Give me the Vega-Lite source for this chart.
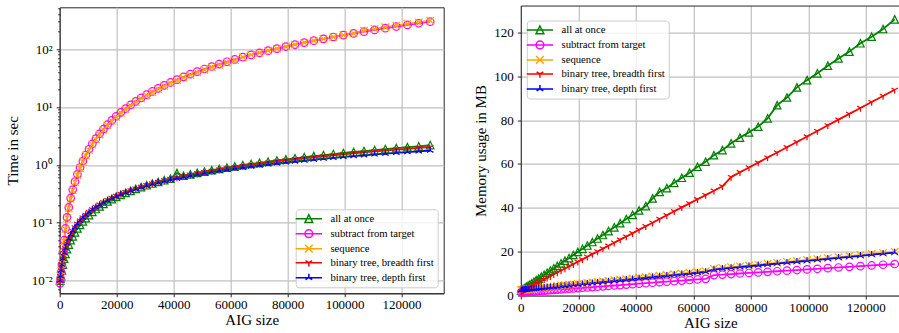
{
  "$schema": "https://vega.github.io/schema/vega-lite/v6.json",
  "padding": {"left": 4.7, "top": 1.3, "right": 0, "bottom": 0},
  "spacing": 29.1,
  "center": true,
  "config": {
    "font": "Liberation Serif",
    "view": {"stroke": "#262626", "strokeWidth": 1},
    "axis": {
      "labelFont": "Liberation Serif", "titleFont": "Liberation Serif",
      "labelFontSize": 13, "titleFontSize": 15, "titleFontWeight": "normal",
      "labelColor": "#000000", "titleColor": "#000000",
      "domainColor": "#262626", "tickColor": "#262626", "tickSize": 3.5, "tickWidth": 1,
      "gridColor": "#c0c0c0", "gridWidth": 1.2, "labelPadding": 2, "titlePadding": 1, "labelFlush": false
    },
    "axisY": {"labelPadding": 4, "titlePadding": 5},
    "legend": {
      "labelFont": "Liberation Serif", "labelFontSize": 10.7, "labelColor": "#000000",
      "fillColor": "rgba(255,255,255,0.8)", "strokeColor": "#cccccc", "cornerRadius": 3,
      "padding": 4, "symbolSize": 60, "symbolOffset": 3.8, "labelOffset": 16.2, "rowPadding": 0,
      "symbolStrokeWidth": 1.5, "labelLimit": 300
    }
  },
  "data": {"values": [
{"s":"all at once","x":127,"t":0.010,"m":2.3},
{"s":"all at once","x":286,"t":0.011,"m":2.5},
{"s":"all at once","x":508,"t":0.012,"m":2.65},
{"s":"all at once","x":794,"t":0.015,"m":2.9},
{"s":"all at once","x":1143,"t":0.019,"m":3.2},
{"s":"all at once","x":1556,"t":0.024,"m":3.6},
{"s":"all at once","x":2032,"t":0.029,"m":4.0},
{"s":"all at once","x":2572,"t":0.035,"m":4.5},
{"s":"all at once","x":3175,"t":0.042,"m":5.0},
{"s":"all at once","x":3842,"t":0.050,"m":5.6},
{"s":"all at once","x":4572,"t":0.058,"m":6.3},
{"s":"all at once","x":5366,"t":0.068,"m":7.0},
{"s":"all at once","x":6223,"t":0.080,"m":7.7},
{"s":"all at once","x":7144,"t":0.092,"m":8.6},
{"s":"all at once","x":8128,"t":0.106,"m":9.4},
{"s":"all at once","x":9176,"t":0.120,"m":10.4},
{"s":"all at once","x":10287,"t":0.136,"m":11.4},
{"s":"all at once","x":11462,"t":0.154,"m":12.4},
{"s":"all at once","x":12700,"t":0.173,"m":13.5},
{"s":"all at once","x":14002,"t":0.192,"m":14.7},
{"s":"all at once","x":15367,"t":0.212,"m":15.9},
{"s":"all at once","x":16796,"t":0.234,"m":17.1},
{"s":"all at once","x":18288,"t":0.256,"m":18.5},
{"s":"all at once","x":19844,"t":0.280,"m":19.9},
{"s":"all at once","x":21463,"t":0.304,"m":21.3},
{"s":"all at once","x":23146,"t":0.329,"m":22.8},
{"s":"all at once","x":24892,"t":0.356,"m":24.4},
{"s":"all at once","x":26702,"t":0.384,"m":26.0},
{"s":"all at once","x":28575,"t":0.414,"m":27.6},
{"s":"all at once","x":30512,"t":0.444,"m":29.4},
{"s":"all at once","x":32512,"t":0.476,"m":31.1},
{"s":"all at once","x":34576,"t":0.508,"m":33.0},
{"s":"all at once","x":36703,"t":0.542,"m":34.9},
{"s":"all at once","x":38894,"t":0.577,"m":36.8},
{"s":"all at once","x":41148,"t":0.72,"m":38.8},
{"s":"all at once","x":43466,"t":0.648,"m":40.8},
{"s":"all at once","x":45847,"t":0.686,"m":44.3},
{"s":"all at once","x":48292,"t":0.725,"m":47.3},
{"s":"all at once","x":50800,"t":0.765,"m":49.0},
{"s":"all at once","x":53372,"t":0.806,"m":51.4},
{"s":"all at once","x":56007,"t":0.850,"m":53.7},
{"s":"all at once","x":58706,"t":0.894,"m":56.0},
{"s":"all at once","x":61468,"t":0.940,"m":58.7},
{"s":"all at once","x":64294,"t":0.987,"m":61.0},
{"s":"all at once","x":67183,"t":1.036,"m":64.0},
{"s":"all at once","x":70136,"t":1.085,"m":66.3},
{"s":"all at once","x":73152,"t":1.136,"m":69.4},
{"s":"all at once","x":76232,"t":1.189,"m":72.0},
{"s":"all at once","x":79375,"t":1.243,"m":74.4},
{"s":"all at once","x":82582,"t":1.299,"m":77.0},
{"s":"all at once","x":85852,"t":1.356,"m":80.8},
{"s":"all at once","x":89186,"t":1.415,"m":86.8},
{"s":"all at once","x":92583,"t":1.475,"m":90.3},
{"s":"all at once","x":96044,"t":1.537,"m":94.9},
{"s":"all at once","x":99568,"t":1.601,"m":98.2},
{"s":"all at once","x":103156,"t":1.666,"m":101.3},
{"s":"all at once","x":106807,"t":1.733,"m":104.8},
{"s":"all at once","x":110522,"t":1.802,"m":108.1},
{"s":"all at once","x":114300,"t":1.872,"m":111.2},
{"s":"all at once","x":118142,"t":1.944,"m":115.0},
{"s":"all at once","x":122047,"t":2.017,"m":118.0},
{"s":"all at once","x":126016,"t":2.092,"m":121.5},
{"s":"all at once","x":130048,"t":2.195,"m":125.9},
{"s":"subtract from target","x":127,"t":0.009,"m":1.51},
{"s":"subtract from target","x":286,"t":0.011,"m":1.53},
{"s":"subtract from target","x":508,"t":0.014,"m":1.55},
{"s":"subtract from target","x":794,"t":0.019,"m":1.58},
{"s":"subtract from target","x":1143,"t":0.031,"m":1.61},
{"s":"subtract from target","x":1556,"t":0.050,"m":1.65},
{"s":"subtract from target","x":2032,"t":0.080,"m":1.69},
{"s":"subtract from target","x":2572,"t":0.124,"m":1.74},
{"s":"subtract from target","x":3175,"t":0.184,"m":1.80},
{"s":"subtract from target","x":3842,"t":0.266,"m":1.86},
{"s":"subtract from target","x":4572,"t":0.374,"m":1.93},
{"s":"subtract from target","x":5366,"t":0.512,"m":2.01},
{"s":"subtract from target","x":6223,"t":0.686,"m":2.09},
{"s":"subtract from target","x":7144,"t":0.901,"m":2.18},
{"s":"subtract from target","x":8128,"t":1.164,"m":2.27},
{"s":"subtract from target","x":9176,"t":1.48,"m":2.37},
{"s":"subtract from target","x":10287,"t":1.86,"m":2.48},
{"s":"subtract from target","x":11462,"t":2.31,"m":2.59},
{"s":"subtract from target","x":12700,"t":2.83,"m":2.71},
{"s":"subtract from target","x":14002,"t":3.44,"m":2.83},
{"s":"subtract from target","x":15367,"t":4.14,"m":2.96},
{"s":"subtract from target","x":16796,"t":4.94,"m":3.10},
{"s":"subtract from target","x":18288,"t":5.86,"m":3.24},
{"s":"subtract from target","x":19844,"t":6.90,"m":3.39},
{"s":"subtract from target","x":21463,"t":8.07,"m":3.54},
{"s":"subtract from target","x":23146,"t":9.38,"m":3.70},
{"s":"subtract from target","x":24892,"t":10.84,"m":3.86},
{"s":"subtract from target","x":26702,"t":12.48,"m":4.04},
{"s":"subtract from target","x":28575,"t":14.29,"m":4.21},
{"s":"subtract from target","x":30512,"t":16.29,"m":4.40},
{"s":"subtract from target","x":32512,"t":18.50,"m":4.59},
{"s":"subtract from target","x":34576,"t":20.92,"m":4.78},
{"s":"subtract from target","x":36703,"t":23.57,"m":4.99},
{"s":"subtract from target","x":38894,"t":26.47,"m":5.19},
{"s":"subtract from target","x":41148,"t":29.63,"m":5.41},
{"s":"subtract from target","x":43466,"t":33.06,"m":5.63},
{"s":"subtract from target","x":45847,"t":36.78,"m":5.86},
{"s":"subtract from target","x":48292,"t":40.81,"m":6.09},
{"s":"subtract from target","x":50800,"t":45.16,"m":6.33},
{"s":"subtract from target","x":53372,"t":49.85,"m":6.57},
{"s":"subtract from target","x":56007,"t":54.89,"m":6.82},
{"s":"subtract from target","x":58706,"t":60.31,"m":7.08},
{"s":"subtract from target","x":61468,"t":66.12,"m":7.34},
{"s":"subtract from target","x":64294,"t":72.34,"m":7.61},
{"s":"subtract from target","x":67183,"t":78.99,"m":9.31},
{"s":"subtract from target","x":70136,"t":86.08,"m":9.55},
{"s":"subtract from target","x":73152,"t":93.65,"m":9.79},
{"s":"subtract from target","x":76232,"t":101.7,"m":10.04},
{"s":"subtract from target","x":79375,"t":110.3,"m":10.29},
{"s":"subtract from target","x":82582,"t":119.3,"m":10.55},
{"s":"subtract from target","x":85852,"t":129.0,"m":10.81},
{"s":"subtract from target","x":89186,"t":139.2,"m":11.08},
{"s":"subtract from target","x":92583,"t":150.0,"m":11.35},
{"s":"subtract from target","x":96044,"t":161.4,"m":11.63},
{"s":"subtract from target","x":99568,"t":173.5,"m":11.92},
{"s":"subtract from target","x":103156,"t":186.2,"m":12.20},
{"s":"subtract from target","x":106807,"t":199.6,"m":12.50},
{"s":"subtract from target","x":110522,"t":213.8,"m":12.80},
{"s":"subtract from target","x":114300,"t":228.6,"m":13.10},
{"s":"subtract from target","x":118142,"t":244.3,"m":13.41},
{"s":"subtract from target","x":122047,"t":260.7,"m":13.72},
{"s":"subtract from target","x":126016,"t":277.9,"m":14.04},
{"s":"subtract from target","x":130048,"t":296.0,"m":14.37},
{"s":"sequence","x":127,"t":0.010,"m":2.57},
{"s":"sequence","x":286,"t":0.012,"m":2.59},
{"s":"sequence","x":508,"t":0.015,"m":2.62},
{"s":"sequence","x":794,"t":0.020,"m":2.65},
{"s":"sequence","x":1143,"t":0.030,"m":2.70},
{"s":"sequence","x":1556,"t":0.048,"m":2.75},
{"s":"sequence","x":2032,"t":0.077,"m":2.81},
{"s":"sequence","x":2572,"t":0.120,"m":2.88},
{"s":"sequence","x":3175,"t":0.178,"m":2.96},
{"s":"sequence","x":3842,"t":0.258,"m":3.05},
{"s":"sequence","x":4572,"t":0.362,"m":3.14},
{"s":"sequence","x":5366,"t":0.497,"m":3.25},
{"s":"sequence","x":6223,"t":0.665,"m":3.36},
{"s":"sequence","x":7144,"t":0.874,"m":3.48},
{"s":"sequence","x":8128,"t":1.13,"m":3.61},
{"s":"sequence","x":9176,"t":1.44,"m":3.74},
{"s":"sequence","x":10287,"t":1.80,"m":3.89},
{"s":"sequence","x":11462,"t":2.24,"m":4.04},
{"s":"sequence","x":12700,"t":2.75,"m":4.40},
{"s":"sequence","x":14002,"t":3.34,"m":4.57},
{"s":"sequence","x":15367,"t":4.02,"m":4.75},
{"s":"sequence","x":16796,"t":4.79,"m":4.93},
{"s":"sequence","x":18288,"t":5.68,"m":5.13},
{"s":"sequence","x":19844,"t":6.69,"m":5.33},
{"s":"sequence","x":21463,"t":7.83,"m":5.54},
{"s":"sequence","x":23146,"t":9.10,"m":5.76},
{"s":"sequence","x":24892,"t":10.5,"m":5.99},
{"s":"sequence","x":26702,"t":12.1,"m":6.22},
{"s":"sequence","x":28575,"t":13.9,"m":6.46},
{"s":"sequence","x":30512,"t":15.8,"m":6.72},
{"s":"sequence","x":32512,"t":17.9,"m":6.98},
{"s":"sequence","x":34576,"t":20.3,"m":7.24},
{"s":"sequence","x":36703,"t":22.9,"m":7.52},
{"s":"sequence","x":38894,"t":25.7,"m":7.81},
{"s":"sequence","x":41148,"t":28.7,"m":8.10},
{"s":"sequence","x":43466,"t":32.1,"m":8.40},
{"s":"sequence","x":45847,"t":35.7,"m":8.71},
{"s":"sequence","x":48292,"t":39.6,"m":9.03},
{"s":"sequence","x":50800,"t":43.8,"m":9.35},
{"s":"sequence","x":53372,"t":48.4,"m":9.69},
{"s":"sequence","x":56007,"t":53.2,"m":10.03},
{"s":"sequence","x":58706,"t":58.5,"m":10.38},
{"s":"sequence","x":61468,"t":64.1,"m":10.74},
{"s":"sequence","x":64294,"t":72.3,"m":11.11},
{"s":"sequence","x":67183,"t":79.0,"m":12.21},
{"s":"sequence","x":70136,"t":86.1,"m":12.58},
{"s":"sequence","x":73152,"t":93.7,"m":12.95},
{"s":"sequence","x":76232,"t":101.7,"m":13.33},
{"s":"sequence","x":79375,"t":110.3,"m":13.71},
{"s":"sequence","x":82582,"t":119.3,"m":14.11},
{"s":"sequence","x":85852,"t":129.0,"m":14.51},
{"s":"sequence","x":89186,"t":139.2,"m":14.92},
{"s":"sequence","x":92583,"t":150.0,"m":15.34},
{"s":"sequence","x":96044,"t":161.4,"m":15.76},
{"s":"sequence","x":99568,"t":173.5,"m":16.20},
{"s":"sequence","x":103156,"t":186.2,"m":16.64},
{"s":"sequence","x":106807,"t":207.6,"m":17.09},
{"s":"sequence","x":110522,"t":222.4,"m":17.54},
{"s":"sequence","x":114300,"t":237.7,"m":18.01},
{"s":"sequence","x":118142,"t":254.1,"m":18.48},
{"s":"sequence","x":122047,"t":271.1,"m":18.96},
{"s":"sequence","x":126016,"t":289.0,"m":19.45},
{"s":"sequence","x":130048,"t":307.8,"m":19.95},
{"s":"binary tree, breadth first","x":127,"t":0.010,"m":1.9},
{"s":"binary tree, breadth first","x":286,"t":0.012,"m":2.0},
{"s":"binary tree, breadth first","x":508,"t":0.015,"m":2.1},
{"s":"binary tree, breadth first","x":794,"t":0.019,"m":2.3},
{"s":"binary tree, breadth first","x":1143,"t":0.024,"m":2.6},
{"s":"binary tree, breadth first","x":1556,"t":0.030,"m":2.9},
{"s":"binary tree, breadth first","x":2032,"t":0.036,"m":3.2},
{"s":"binary tree, breadth first","x":2572,"t":0.044,"m":3.6},
{"s":"binary tree, breadth first","x":3175,"t":0.053,"m":4.0},
{"s":"binary tree, breadth first","x":3842,"t":0.062,"m":4.4},
{"s":"binary tree, breadth first","x":4572,"t":0.072,"m":4.9},
{"s":"binary tree, breadth first","x":5366,"t":0.083,"m":5.5},
{"s":"binary tree, breadth first","x":6223,"t":0.096,"m":6.1},
{"s":"binary tree, breadth first","x":7144,"t":0.109,"m":6.7},
{"s":"binary tree, breadth first","x":8128,"t":0.123,"m":7.4},
{"s":"binary tree, breadth first","x":9176,"t":0.137,"m":8.1},
{"s":"binary tree, breadth first","x":10287,"t":0.153,"m":8.8},
{"s":"binary tree, breadth first","x":11462,"t":0.170,"m":9.7},
{"s":"binary tree, breadth first","x":12700,"t":0.188,"m":10.5},
{"s":"binary tree, breadth first","x":14002,"t":0.206,"m":11.4},
{"s":"binary tree, breadth first","x":15367,"t":0.226,"m":12.3},
{"s":"binary tree, breadth first","x":16796,"t":0.247,"m":13.3},
{"s":"binary tree, breadth first","x":18288,"t":0.268,"m":14.3},
{"s":"binary tree, breadth first","x":19844,"t":0.291,"m":15.4},
{"s":"binary tree, breadth first","x":21463,"t":0.314,"m":16.5},
{"s":"binary tree, breadth first","x":23146,"t":0.338,"m":17.7},
{"s":"binary tree, breadth first","x":24892,"t":0.364,"m":18.9},
{"s":"binary tree, breadth first","x":26702,"t":0.390,"m":20.1},
{"s":"binary tree, breadth first","x":28575,"t":0.418,"m":21.4},
{"s":"binary tree, breadth first","x":30512,"t":0.446,"m":22.7},
{"s":"binary tree, breadth first","x":32512,"t":0.476,"m":24.1},
{"s":"binary tree, breadth first","x":34576,"t":0.506,"m":25.5},
{"s":"binary tree, breadth first","x":36703,"t":0.538,"m":26.9},
{"s":"binary tree, breadth first","x":38894,"t":0.571,"m":28.4},
{"s":"binary tree, breadth first","x":41148,"t":0.604,"m":30.0},
{"s":"binary tree, breadth first","x":43466,"t":0.639,"m":31.6},
{"s":"binary tree, breadth first","x":45847,"t":0.675,"m":33.2},
{"s":"binary tree, breadth first","x":48292,"t":0.712,"m":34.9},
{"s":"binary tree, breadth first","x":50800,"t":0.750,"m":36.6},
{"s":"binary tree, breadth first","x":53372,"t":0.789,"m":38.4},
{"s":"binary tree, breadth first","x":56007,"t":0.830,"m":40.2},
{"s":"binary tree, breadth first","x":58706,"t":0.871,"m":42.0},
{"s":"binary tree, breadth first","x":61468,"t":0.914,"m":43.9},
{"s":"binary tree, breadth first","x":64294,"t":0.958,"m":45.8},
{"s":"binary tree, breadth first","x":67183,"t":1.003,"m":47.8},
{"s":"binary tree, breadth first","x":70136,"t":1.049,"m":49.8},
{"s":"binary tree, breadth first","x":73152,"t":1.096,"m":54.0},
{"s":"binary tree, breadth first","x":76232,"t":1.145,"m":56.2},
{"s":"binary tree, breadth first","x":79375,"t":1.195,"m":58.4},
{"s":"binary tree, breadth first","x":82582,"t":1.246,"m":60.6},
{"s":"binary tree, breadth first","x":85852,"t":1.298,"m":62.9},
{"s":"binary tree, breadth first","x":89186,"t":1.352,"m":65.2},
{"s":"binary tree, breadth first","x":92583,"t":1.407,"m":67.6},
{"s":"binary tree, breadth first","x":96044,"t":1.463,"m":70.0},
{"s":"binary tree, breadth first","x":99568,"t":1.521,"m":72.5},
{"s":"binary tree, breadth first","x":103156,"t":1.580,"m":75.0},
{"s":"binary tree, breadth first","x":106807,"t":1.640,"m":77.6},
{"s":"binary tree, breadth first","x":110522,"t":1.702,"m":80.2},
{"s":"binary tree, breadth first","x":114300,"t":1.765,"m":82.8},
{"s":"binary tree, breadth first","x":118142,"t":1.830,"m":85.5},
{"s":"binary tree, breadth first","x":122047,"t":1.895,"m":88.2},
{"s":"binary tree, breadth first","x":126016,"t":1.963,"m":91.0},
{"s":"binary tree, breadth first","x":130048,"t":2.032,"m":93.8},
{"s":"binary tree, depth first","x":127,"t":0.010,"m":2.42},
{"s":"binary tree, depth first","x":286,"t":0.012,"m":2.44},
{"s":"binary tree, depth first","x":508,"t":0.015,"m":2.47},
{"s":"binary tree, depth first","x":794,"t":0.019,"m":2.50},
{"s":"binary tree, depth first","x":1143,"t":0.024,"m":2.55},
{"s":"binary tree, depth first","x":1556,"t":0.030,"m":2.60},
{"s":"binary tree, depth first","x":2032,"t":0.036,"m":2.66},
{"s":"binary tree, depth first","x":2572,"t":0.044,"m":2.73},
{"s":"binary tree, depth first","x":3175,"t":0.053,"m":2.81},
{"s":"binary tree, depth first","x":3842,"t":0.062,"m":2.90},
{"s":"binary tree, depth first","x":4572,"t":0.072,"m":2.99},
{"s":"binary tree, depth first","x":5366,"t":0.083,"m":3.10},
{"s":"binary tree, depth first","x":6223,"t":0.095,"m":3.21},
{"s":"binary tree, depth first","x":7144,"t":0.108,"m":3.33},
{"s":"binary tree, depth first","x":8128,"t":0.122,"m":3.46},
{"s":"binary tree, depth first","x":9176,"t":0.136,"m":3.59},
{"s":"binary tree, depth first","x":10287,"t":0.151,"m":3.74},
{"s":"binary tree, depth first","x":11462,"t":0.168,"m":3.89},
{"s":"binary tree, depth first","x":12700,"t":0.186,"m":4.05},
{"s":"binary tree, depth first","x":14002,"t":0.203,"m":4.22},
{"s":"binary tree, depth first","x":15367,"t":0.223,"m":4.40},
{"s":"binary tree, depth first","x":16796,"t":0.243,"m":4.58},
{"s":"binary tree, depth first","x":18288,"t":0.263,"m":4.78},
{"s":"binary tree, depth first","x":19844,"t":0.285,"m":4.98},
{"s":"binary tree, depth first","x":21463,"t":0.307,"m":5.19},
{"s":"binary tree, depth first","x":23146,"t":0.330,"m":5.41},
{"s":"binary tree, depth first","x":24892,"t":0.355,"m":5.64},
{"s":"binary tree, depth first","x":26702,"t":0.380,"m":5.87},
{"s":"binary tree, depth first","x":28575,"t":0.406,"m":6.11},
{"s":"binary tree, depth first","x":30512,"t":0.432,"m":6.37},
{"s":"binary tree, depth first","x":32512,"t":0.461,"m":6.63},
{"s":"binary tree, depth first","x":34576,"t":0.489,"m":6.89},
{"s":"binary tree, depth first","x":36703,"t":0.518,"m":7.17},
{"s":"binary tree, depth first","x":38894,"t":0.549,"m":7.46},
{"s":"binary tree, depth first","x":41148,"t":0.579,"m":7.75},
{"s":"binary tree, depth first","x":43466,"t":0.611,"m":8.05},
{"s":"binary tree, depth first","x":45847,"t":0.644,"m":8.36},
{"s":"binary tree, depth first","x":48292,"t":0.678,"m":8.68},
{"s":"binary tree, depth first","x":50800,"t":0.712,"m":9.00},
{"s":"binary tree, depth first","x":53372,"t":0.747,"m":9.34},
{"s":"binary tree, depth first","x":56007,"t":0.784,"m":9.68},
{"s":"binary tree, depth first","x":58706,"t":0.820,"m":10.03},
{"s":"binary tree, depth first","x":61468,"t":0.858,"m":10.39},
{"s":"binary tree, depth first","x":64294,"t":0.896,"m":10.76},
{"s":"binary tree, depth first","x":67183,"t":0.936,"m":11.86},
{"s":"binary tree, depth first","x":70136,"t":0.975,"m":12.23},
{"s":"binary tree, depth first","x":73152,"t":1.016,"m":12.60},
{"s":"binary tree, depth first","x":76232,"t":1.058,"m":12.98},
{"s":"binary tree, depth first","x":79375,"t":1.100,"m":13.36},
{"s":"binary tree, depth first","x":82582,"t":1.143,"m":13.76},
{"s":"binary tree, depth first","x":85852,"t":1.187,"m":14.16},
{"s":"binary tree, depth first","x":89186,"t":1.231,"m":14.57},
{"s":"binary tree, depth first","x":92583,"t":1.277,"m":14.99},
{"s":"binary tree, depth first","x":96044,"t":1.323,"m":15.41},
{"s":"binary tree, depth first","x":99568,"t":1.370,"m":15.85},
{"s":"binary tree, depth first","x":103156,"t":1.417,"m":16.29},
{"s":"binary tree, depth first","x":106807,"t":1.465,"m":16.74},
{"s":"binary tree, depth first","x":110522,"t":1.514,"m":17.19},
{"s":"binary tree, depth first","x":114300,"t":1.563,"m":17.66},
{"s":"binary tree, depth first","x":118142,"t":1.614,"m":18.13},
{"s":"binary tree, depth first","x":122047,"t":1.664,"m":18.61},
{"s":"binary tree, depth first","x":126016,"t":1.716,"m":19.10},
{"s":"binary tree, depth first","x":130048,"t":1.768,"m":19.60}
  ]},
  "hconcat": [
    {
      "width": 384,
      "height": 286,
      "encoding": {
        "x": {"field": "x", "type": "quantitative", "scale": {"domain": [0, 134780], "nice": false, "zero": false},
              "axis": {"title": "AIG size", "values": [0, 20000, 40000, 60000, 80000, 100000, 120000], "format": "d", "grid": true, "labelFont": "Liberation Serif", "titleFont": "Liberation Serif"}},
        "y": {"field": "t", "type": "quantitative", "scale": {"type": "log", "domain": [0.00606, 525], "nice": false},
              "axis": {"title": "Time in sec", "grid": true, "labelOverlap": false, "titlePadding": 11, "labelFont": "Liberation Serif", "titleFont": "Liberation Serif",
                "values": [0.007,0.008,0.009,0.01,0.02,0.03,0.04,0.05,0.06,0.07,0.08,0.09,0.1,0.2,0.3,0.4,0.5,0.6,0.7,0.8,0.9,1,2,3,4,5,6,7,8,9,10,20,30,40,50,60,70,80,90,100,200,300,400,500],
                "labelExpr": "datum.value==100?'10²':datum.value==10?'10¹':datum.value==1?'10⁰':datum.value==0.1?'10⁻¹':datum.value==0.01?'10⁻²':''",
                "gridOpacity": {"condition": {"test": "datum.value==100||datum.value==10||datum.value==1||datum.value==0.1||datum.value==0.01", "value": 1}, "value": 0},
                "tickSize": {"condition": {"test": "datum.value==100||datum.value==10||datum.value==1||datum.value==0.1||datum.value==0.01", "value": 3.5}, "value": 2}
              }},
        "color": {"field": "s", "type": "nominal",
          "scale": {"domain": ["all at once", "subtract from target", "sequence", "binary tree, breadth first", "binary tree, depth first"],
                    "range": ["#008000", "#ff00ff", "#ffa500", "#ff0000", "#0000ff"]},
          "legend": {"title": null, "orient": "bottom-right", "offset": 6, "labelFont": "Liberation Serif",
            "encode": {"symbols": {"update": {
              "fill": {"value": "transparent"},
              "strokeWidth": {"value": 1.5},
              "opacity": {"value": 1},
              "shape": {"signal": "datum.value==='all at once'?'M-3.4,0L3.4,0M0,-1L1,1L-1,1Z':datum.value==='subtract from target'?'M-3.4,0L3.4,0M1,0A1,1,0,1,1,-1,0A1,1,0,1,1,1,0':datum.value==='sequence'?'M-3.4,0L3.4,0M-1,-1L1,1M-1,1L1,-1':datum.value==='binary tree, breadth first'?'M-3.4,0L3.4,0M0,0L0,1M0,0L0.866,-0.5M0,0L-0.866,-0.5':'M-3.4,0L3.4,0M0,0L0,-1M0,0L0.866,0.5M0,0L-0.866,0.5'"}
            }}}
          }}
      },
      "layer": [
        {"mark": {"type": "line", "strokeWidth": 1.8}},
        {"mark": {"type": "point", "filled": false, "size": 56, "strokeWidth": 1.2, "opacity": 1},
         "encoding": {"shape": {"field": "s", "type": "nominal", "legend": null,
           "scale": {"domain": ["all at once", "subtract from target", "sequence", "binary tree, breadth first", "binary tree, depth first"],
                     "range": ["M0,-1L1,1L-1,1Z", "circle", "M-1,-1L1,1M-1,1L1,-1", "M0,0L0,1M0,0L0.866,-0.5M0,0L-0.866,-0.5", "M0,0L0,-1M0,0L0.866,0.5M0,0L-0.866,0.5"]}}}}
      ]
    },
    {
      "width": 379,
      "height": 290,
      "view": {"stroke": null},
      "encoding": {
        "y": {"field": "m", "type": "quantitative", "scale": {"domain": [0, 132.2], "nice": false},
              "axis": {"title": "Memory usage in MB", "grid": true, "values": [0, 20, 40, 60, 80, 100, 120], "labelFont": "Liberation Serif", "titleFont": "Liberation Serif"}},
        "color": {"field": "s", "type": "nominal",
          "scale": {"domain": ["all at once", "subtract from target", "sequence", "binary tree, breadth first", "binary tree, depth first"],
                    "range": ["#008000", "#ff00ff", "#ffa500", "#ff0000", "#0000ff"]},
          "legend": {"title": null, "orient": "none", "legendX": 6, "legendY": 15, "labelFont": "Liberation Serif",
            "encode": {"symbols": {"update": {
              "fill": {"value": "transparent"},
              "strokeWidth": {"value": 1.5},
              "opacity": {"value": 1},
              "shape": {"signal": "datum.value==='all at once'?'M-3.4,0L3.4,0M0,-1L1,1L-1,1Z':datum.value==='subtract from target'?'M-3.4,0L3.4,0M1,0A1,1,0,1,1,-1,0A1,1,0,1,1,1,0':datum.value==='sequence'?'M-3.4,0L3.4,0M-1,-1L1,1M-1,1L1,-1':datum.value==='binary tree, breadth first'?'M-3.4,0L3.4,0M0,0L0,1M0,0L0.866,-0.5M0,0L-0.866,-0.5':'M-3.4,0L3.4,0M0,0L0,-1M0,0L0.866,0.5M0,0L-0.866,0.5'"}
            }}}
          }}
      },
      "layer": [
        {"mark": {"type": "line", "strokeWidth": 1.8},
         "encoding": {"x": {"field": "x", "type": "quantitative", "scale": {"domain": [0, 131826], "nice": false, "zero": false},
              "axis": {"orient": "bottom", "title": "AIG size", "values": [0, 20000, 40000, 60000, 80000, 100000, 120000], "format": "d", "grid": true, "labelFont": "Liberation Serif", "titleFont": "Liberation Serif"}}}},
        {"mark": {"type": "point", "filled": false, "size": 56, "strokeWidth": 1.2, "opacity": 1},
         "encoding": {
           "x": {"field": "x", "type": "quantitative", "axis": {"orient": "top", "title": null, "labels": false, "ticks": false, "grid": false, "domain": true}},
           "shape": {"field": "s", "type": "nominal", "legend": null,
           "scale": {"domain": ["all at once", "subtract from target", "sequence", "binary tree, breadth first", "binary tree, depth first"],
                     "range": ["M0,-1L1,1L-1,1Z", "circle", "M-1,-1L1,1M-1,1L1,-1", "M0,0L0,1M0,0L0.866,-0.5M0,0L-0.866,-0.5", "M0,0L0,-1M0,0L0.866,0.5M0,0L-0.866,0.5"]}}}}
      ]
    }
  ]
}
